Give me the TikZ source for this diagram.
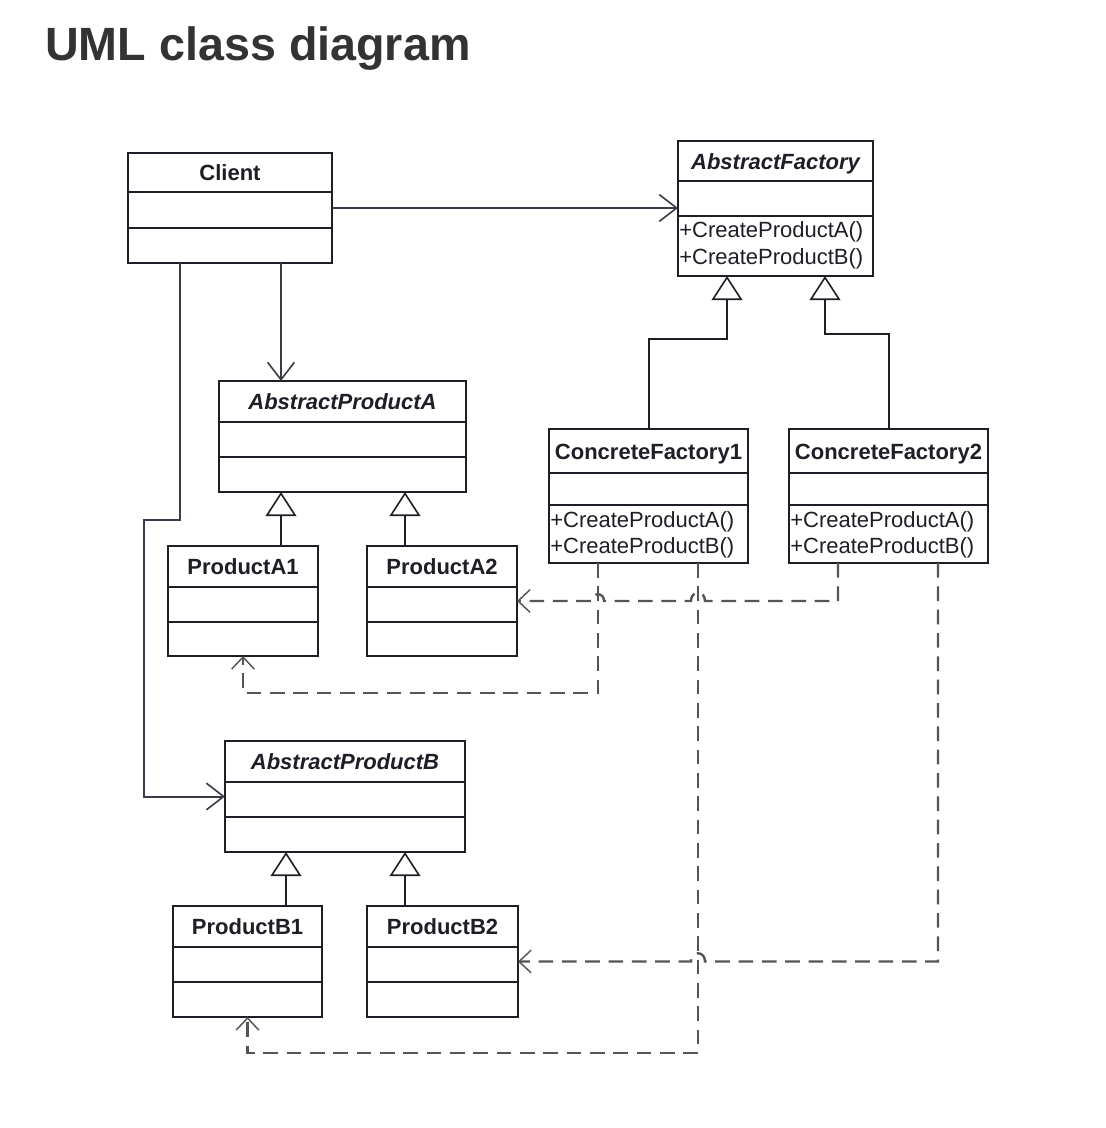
\documentclass[tikz,border=0pt]{standalone}
\usepackage{fontspec}
\setmainfont{Liberation Sans}
\usetikzlibrary{arrows.meta,calc,fit}

\definecolor{ink}{HTML}{1E1E26}
\definecolor{wire}{HTML}{3A3A48}
\definecolor{dashgray}{HTML}{555555}
\definecolor{heading}{HTML}{333333}

\tikzset{
  box/.style={draw=ink, line width=1.5pt, inner sep=0pt, outer sep=0pt},
  rule/.style={draw=ink, line width=1.5pt},
  cname/.style={font=\fontsize{16.5}{19}\selectfont\bfseries, text=ink, inner sep=0pt, anchor=base},
  aname/.style={font=\fontsize{16.5}{19}\selectfont\bfseries\itshape, text=ink, inner sep=0pt, anchor=base},
  op/.style={font=\fontsize{16.5}{19}\selectfont, text=ink, anchor=base west, inner sep=0pt},
  assoc/.style={draw=wire, line width=1.5pt, -{Straight Barb[length=13pt,width=20pt,line width=1.2pt]}},
  gen/.style={draw=ink, line width=1.5pt, -{Triangle[open, fill=white, length=18pt, width=23pt, line width=1.2pt]}},
  dep/.style={draw=dashgray, line width=1.8pt, dash pattern=on 11pt off 6.5pt, -{Straight Barb[length=9pt,width=17pt,line width=1.1pt]}},
}

% #1 name, #2-#5 box corners, #6 #7 compartment rules, #8 title style, #9 title
\newcommand\umlclass[9]{%
  \node[box, fit={(#2,#3) (#4,#5)}] (#1) {};
  \draw[rule] (#2,#6) -- (#4,#6) (#2,#7) -- (#4,#7);
  \node[#8] (#1-title) at ({(#2+#4)/2},{(#3+#6)/2+8}) {#9};
}

\begin{document}
\begin{tikzpicture}[x=0.75pt,y=-0.75pt]
  \fill[white] (0,0) rectangle (1106,1128);
  \useasboundingbox (0,0) rectangle (1106,1128);

  \node[font=\fontsize{35}{40}\selectfont\bfseries, text=heading, anchor=base west, inner sep=0pt]
    (heading) at (45,60) {UML class diagram};

  % classes
  \umlclass{client}{128}{153}{332}{263}{192}{228}{cname}{Client}
  \umlclass{af}{678}{141}{873}{276}{181}{216}{aname}{AbstractFactory}
  \umlclass{apa}{219}{381}{466}{492}{422}{457}{aname}{AbstractProductA}
  \umlclass{pa1}{168}{546}{318}{656}{587}{622}{cname}{ProductA1}
  \umlclass{pa2}{367}{546}{517}{656}{587}{622}{cname}{ProductA2}
  \umlclass{cf1}{549}{429}{748}{563}{473}{505}{cname}{ConcreteFactory1}
  \umlclass{cf2}{789}{429}{988}{563}{473}{505}{cname}{ConcreteFactory2}
  \umlclass{apb}{225}{741}{465}{852}{782}{817}{aname}{AbstractProductB}
  \umlclass{pb1}{173}{906}{322}{1017}{947}{982}{cname}{ProductB1}
  \umlclass{pb2}{367}{906}{518}{1017}{947}{982}{cname}{ProductB2}

  % operations
  \node[op] (af-op1) at (679,237) {+CreateProductA()};
  \node[op] (af-op2) at (679,264) {+CreateProductB()};
  \node[op] (cf1-op1) at (550,527) {+CreateProductA()};
  \node[op] (cf1-op2) at (550,553) {+CreateProductB()};
  \node[op] (cf2-op1) at (790,527) {+CreateProductA()};
  \node[op] (cf2-op2) at (790,553) {+CreateProductB()};

  % associations from the client
  \draw[assoc] (client.east) -- (client.east -| af.west);
  \coordinate (cA) at ($(client.south west)+(153,0)$);
  \draw[assoc] (cA) -- (cA |- apa.north);
  \coordinate (cB) at ($(client.south west)+(52,0)$);
  \draw[assoc] (cB) -- ++(0,257) -- ++(-36,0) |- (apb.west);

  % generalizations
  \coordinate (ga1) at ($(pa1.north west)+(113,0)$);
  \coordinate (ga2) at ($(pa2.north west)+(38,0)$);
  \coordinate (gb1) at ($(pb1.north west)+(113,0)$);
  \coordinate (gb2) at ($(pb2.north west)+(38,0)$);
  \draw[gen] (ga1) -- (ga1 |- apa.south);
  \draw[gen] (ga2) -- (ga2 |- apa.south);
  \draw[gen] (gb1) -- (gb1 |- apb.south);
  \draw[gen] (gb2) -- (gb2 |- apb.south);
  \draw[gen] (cf1.north) -- ++(0,-90) -| ($(af.south west)+(49,0)$);
  \draw[gen] (cf2.north) -- ++(0,-95) -| ($(af.south west)+(147,0)$);

  % dependencies from the concrete factories
  \coordinate (p1a) at ($(cf1.south west)+(49,0)$);
  \coordinate (p1b) at ($(cf1.south west)+(149,0)$);
  \coordinate (p2a) at ($(cf2.south west)+(49,0)$);
  \coordinate (p2b) at ($(cf2.south west)+(149,0)$);
  \draw[dep] (p1a) -- ++(0,130) -| (pa1.south);
  \draw[dep] (p1b) -- ++(0,490) -| (pb1.south);
  \draw[dep] (p2a) -- (p2a |- pa2.east)
    -- ($(p1b |- pa2.east)+(7,0)$) .. controls +(0,-11) and +(0,-11) .. ($(p1b |- pa2.east)+(-7,0)$)
    -- ($(p1a |- pa2.east)+(6,0)$) .. controls +(0,-9) and +(0,-9) .. ($(p1a |- pa2.east)+(-6,0)$)
    -- (pa2.east);
  \draw[dep] (p2b) -- (p2b |- pb2.east)
    -- ($(p1b |- pb2.east)+(7,0)$) .. controls +(0,-11) and +(0,-11) .. ($(p1b |- pb2.east)+(-7,0)$)
    -- (pb2.east);
\end{tikzpicture}
\end{document}
